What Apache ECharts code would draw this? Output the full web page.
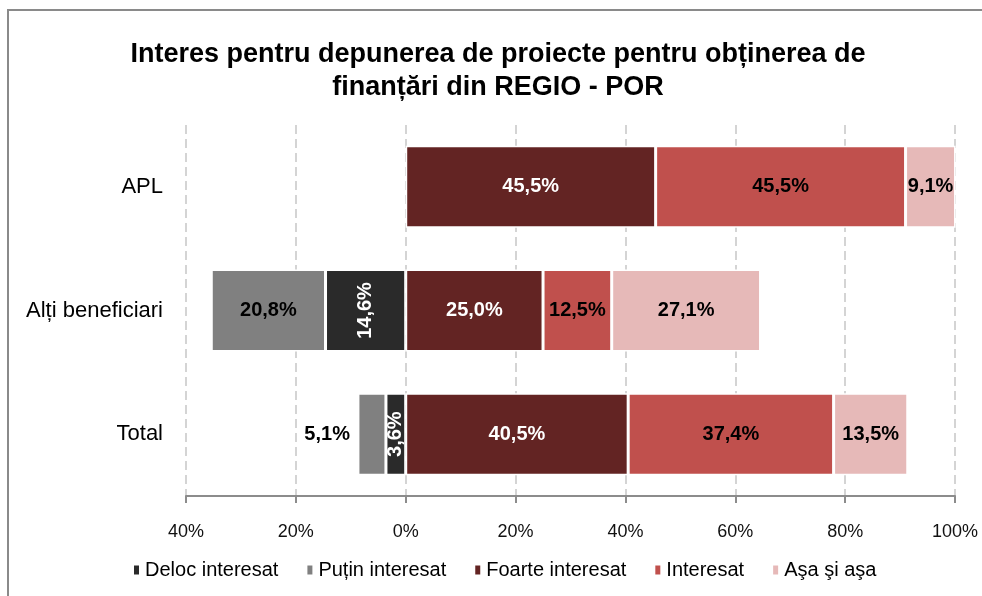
<!DOCTYPE html>
<html>
<head>
<meta charset="utf-8">
<script src="https://cdn.jsdelivr.net/npm/echarts@6/dist/echarts.min.js"></script>
<style>
html,body{margin:0;padding:0;background:#fff;}
#chart{width:982px;height:596px;}
</style>
</head>
<body>
<div id="chart"></div>
<script>
// ---- data ----
const categories = ['APL', 'Alți beneficiari', 'Total'];
const seriesNames = ['Deloc interesat', 'Puțin interesat', 'Foarte interesat', 'Interesat', 'Aşa şi aşa'];
const delocInteresat = [null, -14.6, -3.6];
const putinInteresat = [null, -20.8, -5.1];
const foarteInteresat = [45.5, 25.0, 40.5];
const interesat = [45.5, 12.5, 37.4];
const asaSiAsa = [9.1, 27.1, 13.5];
const axisMin = -40, axisMax = 100, axisStep = 20;

const FONT = '"Liberation Sans", Arial, sans-serif';
const colors = ['#2a2a2a', '#808080', '#632423', '#c0504d', '#e6b9b8'];
const labelColors = ['#ffffff', '#000000', '#ffffff', '#000000', '#000000'];
const fmt = v => Math.abs(v).toFixed(1).replace('.', ',') + '%';

function makeSeries(idx, values) {
  return {
    name: seriesNames[idx],
    type: 'bar',
    stack: 'total',
    barWidth: 82,
    itemStyle: { color: colors[idx], borderColor: '#ffffff', borderWidth: 1.5 },
    label: {
      show: true,
      position: 'inside',
      rotate: idx === 0 ? 90 : 0,
      color: labelColors[idx],
      fontFamily: FONT,
      fontWeight: 'bold',
      fontSize: 20,
      formatter: p => (p.value == null ? '' : fmt(p.value))
    },
    data: values.map((v, i) => {
      // small "Puțin interesat" segment of Total: label drawn outside, left
      if (idx === 1 && i === 2) {
        return { value: v, label: { position: 'left', distance: 8 } };
      }
      return v;
    })
  };
}

const chart = echarts.init(document.getElementById('chart'), null, { renderer: 'canvas' });
chart.setOption({
  backgroundColor: '#ffffff',
  animation: false,
  graphic: [{
    type: 'rect',
    shape: { x: 8, y: 10, width: 1000, height: 620 },
    style: { fill: 'none', stroke: '#8a8a8a', lineWidth: 2 },
    silent: true,
    z: -10
  }],
  title: {
    text: 'Interes pentru depunerea de proiecte pentru obținerea de\nfinanțări din REGIO - POR',
    left: 498,
    textAlign: 'center',
    top: 38,
    padding: 0,
    textStyle: { fontFamily: FONT, fontWeight: 'bold', fontSize: 27, lineHeight: 33, color: '#000' }
  },
  legend: {
    data: seriesNames,
    left: 132,
    top: 560,
    padding: 0,
    icon: 'rect',
    itemWidth: 7,
    itemHeight: 11,
    itemGap: 27,
    textStyle: { fontFamily: FONT, fontSize: 20, color: '#000' }
  },
  grid: { left: 186, right: 27, top: 125, bottom: 100, containLabel: false },
  xAxis: {
    type: 'value',
    min: axisMin,
    max: axisMax,
    interval: axisStep,
    axisLine: { show: true, onZero: false, lineStyle: { color: '#8c8c8c', width: 2 } },
    axisTick: { show: true, length: 7, lineStyle: { color: '#8c8c8c', width: 2 } },
    axisLabel: {
      margin: 27,
      fontFamily: FONT,
      fontSize: 18,
      color: '#111',
      formatter: v => Math.abs(v) + '%'
    },
    splitLine: { show: true, lineStyle: { color: '#c6c6c6', width: 1.5, type: [9, 5] } }
  },
  yAxis: {
    type: 'category',
    inverse: true,
    data: categories,
    axisLine: { show: false },
    axisTick: { show: false },
    axisLabel: { margin: 23, fontFamily: FONT, fontSize: 22, color: '#000' },
    splitLine: { show: false }
  },
  series: [
    makeSeries(0, delocInteresat),
    makeSeries(1, putinInteresat),
    makeSeries(2, foarteInteresat),
    makeSeries(3, interesat),
    makeSeries(4, asaSiAsa)
  ]
});
</script>
</body>
</html>
